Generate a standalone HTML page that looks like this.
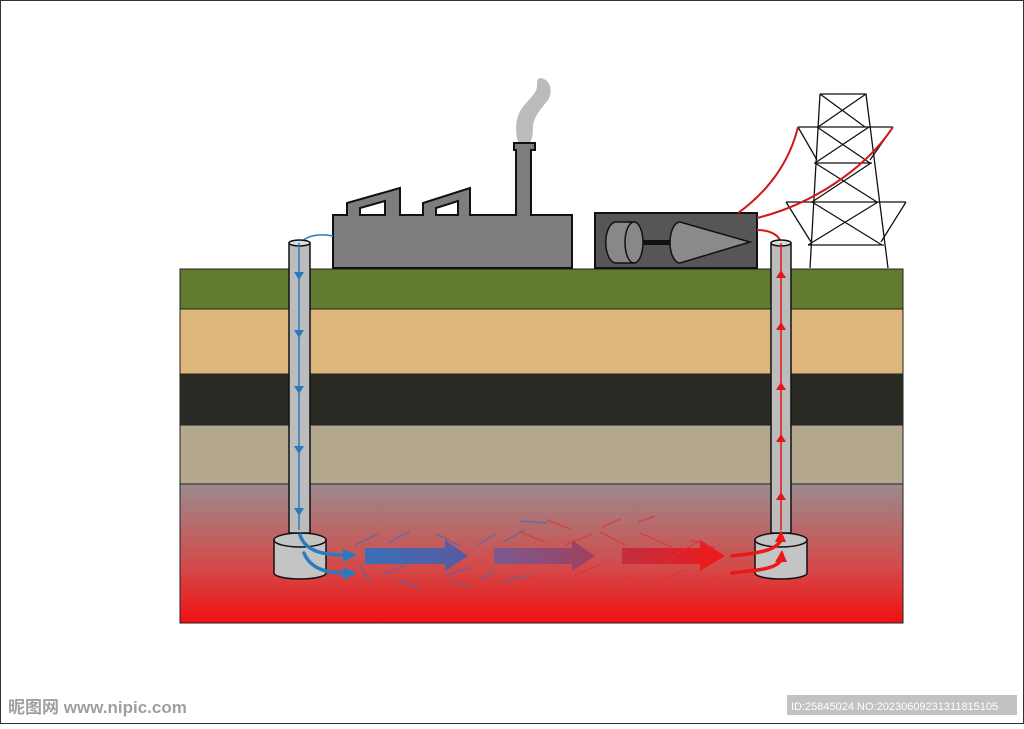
<!DOCTYPE html>
<html><head><meta charset="utf-8"><style>
body{margin:0;width:1024px;height:724px;background:#fff;overflow:hidden;font-family:"Liberation Sans","Noto Sans CJK SC",sans-serif}
</style></head><body>
<svg width="1024" height="724" viewBox="0 0 1024 724" xmlns="http://www.w3.org/2000/svg">
<defs>
<linearGradient id="g" x1="0" y1="0" x2="0" y2="1"><stop offset="0" stop-color="#9a8b8e"/><stop offset="0.6" stop-color="#d44a4a"/><stop offset="1" stop-color="#f01010"/></linearGradient>
<linearGradient id="a1" x1="0" x2="1"><stop offset="0" stop-color="#3a6fb8"/><stop offset="1" stop-color="#5a5aa0"/></linearGradient>
<linearGradient id="a2" x1="0" x2="1"><stop offset="0" stop-color="#7a5a90"/><stop offset="1" stop-color="#a04060"/></linearGradient>
<linearGradient id="a3" x1="0" x2="1"><stop offset="0" stop-color="#c03040"/><stop offset="1" stop-color="#f01818"/></linearGradient>
</defs>
<rect x="0.5" y="0.5" width="1023" height="723" fill="none" stroke="#333"/>
<rect x="180" y="269" width="723" height="40" fill="#627b30" stroke="#222"/>
<rect x="180" y="309" width="723" height="65" fill="#dcb67a" stroke="#222"/>
<rect x="180" y="374" width="723" height="51" fill="#2a2a25" stroke="#222"/>
<rect x="180" y="425" width="723" height="59" fill="#b3a78d" stroke="#222"/>
<rect x="180" y="484" width="723" height="139" fill="url(#g)" stroke="#222"/>
<!-- smoke -->
<path d="M541 78 C551 80,553 92,548 100 C540 110,533 118,533 128 C533 134,532 140,530 142 L518 142 C515 132,515 118,522 108 C530 98,538 92,537 84 C537 80,538 78,541 78Z" fill="#bbb"/>
<!-- factory -->
<path d="M333 268 L333 215 L347 215 L347 203 L400 188 L400 215 L423 215 L423 203 L470 188 L470 215 L516 215 L516 150 L514 150 L514 143 L535 143 L535 150 L531 150 L531 215 L572 215 L572 268Z" fill="#7d7d7d" stroke="#111" stroke-width="2"/>
<path d="M360 215 L360 208 L385 201 L385 215Z" fill="#fff" stroke="#111" stroke-width="2"/>
<path d="M436 215 L436 208 L458 201 L458 215Z" fill="#fff" stroke="#111" stroke-width="2"/>
<!-- generator -->
<rect x="595" y="213" width="162" height="55" fill="#565656" stroke="#111" stroke-width="2"/>
<path d="M616 222 L634 222 L634 263 L616 263 A10 20 0 0 1 616 222Z" fill="#888" stroke="#111" stroke-width="1.5"/>
<ellipse cx="634" cy="242.5" rx="9" ry="20.5" fill="#888" stroke="#111" stroke-width="1.5"/>
<rect x="643" y="240" width="30" height="5" fill="#111"/>
<path d="M680 222 L750 242 L680 263 A10 20.5 0 0 1 680 222Z" fill="#8a8a8a" stroke="#111" stroke-width="1.5"/>
<!-- tower -->
<g fill="none" stroke="#111" stroke-width="1.3">
<path d="M820 94 L866 94 L888 268 M820 94 L810 268"/>
<path d="M820 94 L865 127 M866 94 L818 127 M798 127 L893 127 M817 127 L870 163 M869 127 L815 163 M814 163 L872 163 M815 163 L877 202 M871 163 L812 202 M786 202 L906 202 M812 202 L882 245 M878 202 L808 245 M808 245 L884 245 M798 127 L817 160 M893 127 L870 160 M786 202 L811 242 M906 202 L881 242"/>
</g>
<path d="M738 213 C770 190,790 160,798 127" fill="none" stroke="#d01818" stroke-width="2"/>
<path d="M757 218 C810 205,865 170,893 127" fill="none" stroke="#d01818" stroke-width="2"/>
<path d="M757 230 C770 230,780 235,781 244" fill="none" stroke="#d01818" stroke-width="2"/>
<path d="M333 236 C318 233,305 236,300 244" fill="none" stroke="#2a7ac0" stroke-width="1.5"/>
<!-- pipes -->
<g stroke="#111" stroke-width="1.5">
<path d="M274 540 L274 573 A26 6 0 0 0 326 573 L326 540Z" fill="#c4c4c4"/>
<ellipse cx="300" cy="540" rx="26" ry="7" fill="#c4c4c4"/>
<rect x="289" y="243" width="21" height="290" fill="#bcbcbc"/>
<ellipse cx="299.5" cy="243" rx="10.5" ry="3" fill="#ddd"/>
<path d="M755 540 L755 573 A26 6 0 0 0 807 573 L807 540Z" fill="#c4c4c4"/>
<ellipse cx="781" cy="540" rx="26" ry="7" fill="#c4c4c4"/>
<rect x="771" y="243" width="20" height="290" fill="#bcbcbc"/>
<ellipse cx="781" cy="243" rx="10" ry="3" fill="#ddd"/>
</g>
<line x1="299" y1="243" x2="299" y2="530" stroke="#2a7ac0" stroke-width="1.5"/>
<g fill="#2a7ac0"><path d="M294 272 h10 l-5 8z"/><path d="M294 330 h10 l-5 8z"/><path d="M294 386 h10 l-5 8z"/><path d="M294 446 h10 l-5 8z"/><path d="M294 508 h10 l-5 8z"/></g>
<line x1="781" y1="243" x2="781" y2="530" stroke="#e01818" stroke-width="1.5"/>
<g fill="#e01818"><path d="M776 278 h10 l-5 -8z"/><path d="M776 330 h10 l-5 -8z"/><path d="M776 390 h10 l-5 -8z"/><path d="M776 442 h10 l-5 -8z"/><path d="M776 500 h10 l-5 -8z"/></g>
<g fill="none" stroke-width="3.5" stroke-linecap="round">
<path d="M300 535 C305 550,320 555,345 555" stroke="#2a7ac0"/>
<path d="M304 553 C310 568,325 573,345 573" stroke="#2a7ac0"/>
<path d="M732 556 C755 553,775 552,781 540" stroke="#ee1818"/>
<path d="M732 573 C755 570,775 570,781 560" stroke="#ee1818"/>
</g>
<g fill="#2a7ac0"><path d="M343 549 l14 6 l-14 7z"/><path d="M343 567 l14 6 l-14 7z"/></g>
<g fill="#ee1818"><path d="M775 542 l6 -12 l5 12z"/><path d="M775 562 l7 -12 l5 12z"/></g>
<path d="M365 548 L445 548 L445 540 L468 556 L445 571 L445 564 L365 564Z" fill="url(#a1)"/>
<path d="M494 548 L572 548 L572 540 L595 556 L572 571 L572 564 L494 564Z" fill="url(#a2)"/>
<path d="M622 548 L700 548 L700 540 L725 556 L700 571 L700 564 L622 564Z" fill="url(#a3)"/>
<g stroke-width="1.2" opacity="0.8">
<g stroke="#3a6fb8"><path d="M355 545 L378 534"/><path d="M388 543 L410 531"/><path d="M436 534 L460 546"/><path d="M478 545 L495 534"/><path d="M360 565 L370 582"/><path d="M382 575 L405 565"/><path d="M398 580 L420 588"/><path d="M445 575 L470 568"/><path d="M450 580 L470 588"/><path d="M480 580 L495 570"/><path d="M503 542 L525 530"/><path d="M504 582 L530 575"/><path d="M520 521 L548 523"/></g>
<g stroke="#e03030"><path d="M547 520 L570 529"/><path d="M520 532 L545 542"/><path d="M565 545 L592 534"/><path d="M602 527 L620 519"/><path d="M600 532 L625 545"/><path d="M638 522 L655 516"/><path d="M640 533 L672 547"/><path d="M575 575 L600 565"/><path d="M520 583 L540 575"/><path d="M585 583 L600 583"/><path d="M620 575 L640 583"/><path d="M660 580 L685 570"/><path d="M660 565 L700 540"/><path d="M700 585 L725 575"/><path d="M690 540 L715 548"/></g>
</g>
<text x="8" y="713" font-size="17" font-weight="bold" fill="#888" opacity="0.8">昵图网 www.nipic.com</text>
<rect x="787" y="695" width="230" height="20" fill="#999" opacity="0.6"/>
<text x="791" y="710" font-size="11" fill="#fff">ID:25845024 NO:20230609231311815105</text>
</svg>
</body></html>
